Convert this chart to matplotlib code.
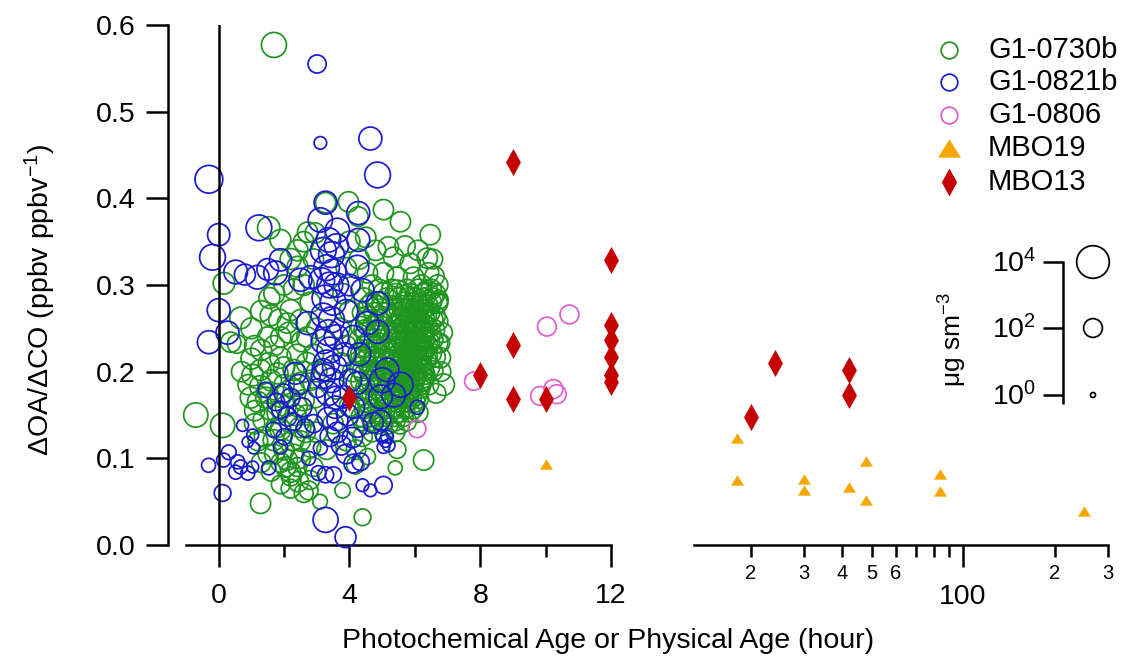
import numpy as np
import matplotlib
matplotlib.use("Agg")
import matplotlib.pyplot as plt
from matplotlib.ticker import FixedLocator, FuncFormatter, FormatStrFormatter

# ---------------------------------------------------------------- data
# G1-0730b : scattered circles (age h, dOA/dCO, log10 OA)
g_age = [1.69, 3.27, 3.97, 5.04, 5.56, 6.47, 4.27, 1.53, 1.89, 2.41,
         2.72, 0.16, 0.67, 1.59, 2.20, 2.10, 0.37, 0.55, -0.70, 0.12,
         1.28, 4.40, 3.79, 6.27, 6.88, 5.40, 6.78, 6.78, 6.72, 6.73,
         2.75, 2.44, 2.20, 2.05, 4.55, 4.18, 5.46, 2.60, 3.10,
         5.19, 6.38, 5.86, 5.35, 5.04, 4.55, 5.46, 5.96, 6.42, 2.41,
         5.04, 5.46, 6.38, 6.69, 5.96, 4.80, 4.50, 4.00, 4.30, 4.70,
         5.70, 6.10, 6.20, 3.90, 3.80, 2.90, 2.60, 2.80, 2.50, 3.00,
         2.00, 1.30, 1.90, 6.55, 6.60,
         2.70, 2.90, 3.00, 2.80, 3.70, 3.90, 4.00, 3.75, 4.10, 3.60,
         4.00, 3.50, 3.90, 4.20, 4.40, 3.30, 3.00, 2.70, 2.50, 2.30,
         1.04, 1.28, 0.98, 1.53, 1.89, 1.80, 2.29, 2.50, 2.60, 1.80,
         1.68, 1.89, 2.29, 2.50, 2.81, 2.10, 2.20, 1.28, 1.89, 1.37,
         1.59, 2.20, 1.10, 1.50, 2.00, 2.40, 1.20, 1.50, 1.90, 0.70,
         1.50, 1.70, 1.10, 2.40, 2.90, 2.40,
         1.00, 1.30, 1.60, 2.00, 2.30, 2.60, 0.90, 1.20, 1.45, 1.75,
         2.05, 2.35, 2.65, 1.10, 1.40, 1.70, 2.00, 2.50, 2.80, 1.60,
         1.90, 2.20, 1.30, 1.00, 2.70, 2.95, 2.55, 2.15, 1.85, 1.55,
         2.20, 2.60, 2.95, 2.30, 1.70, 6.80, 6.85, 6.70, 6.65]
g_ratio = [0.577, 0.395, 0.396, 0.387, 0.373, 0.358, 0.379, 0.366, 0.352, 0.340,
           0.361, 0.302, 0.262, 0.265, 0.271, 0.256, 0.234, 0.232, 0.150, 0.138,
           0.048, 0.032, 0.063, 0.098, 0.185, 0.089, 0.216, 0.233, 0.258, 0.283,
           0.063, 0.073, 0.079, 0.090, 0.102, 0.092, 0.110, 0.060, 0.050,
           0.344, 0.331, 0.325, 0.332, 0.314, 0.314, 0.309, 0.309, 0.314, 0.321,
           0.291, 0.294, 0.294, 0.279, 0.279, 0.340, 0.355, 0.350, 0.330, 0.300,
           0.345, 0.340, 0.300, 0.320, 0.290, 0.330, 0.300, 0.280, 0.260, 0.250,
           0.300, 0.270, 0.240, 0.330, 0.310,
           0.240, 0.220, 0.200, 0.190, 0.250, 0.230, 0.270, 0.210, 0.200, 0.180,
           0.160, 0.140, 0.120, 0.110, 0.125, 0.110, 0.130, 0.150, 0.120, 0.105,
           0.196, 0.183, 0.170, 0.210, 0.216, 0.198, 0.202, 0.187, 0.167, 0.152,
           0.121, 0.133, 0.121, 0.136, 0.113, 0.098, 0.084, 0.202, 0.171, 0.144,
           0.156, 0.141, 0.155, 0.175, 0.185, 0.160, 0.120, 0.105, 0.095, 0.200,
           0.240, 0.230, 0.230, 0.220, 0.090, 0.090,
           0.215, 0.225, 0.190, 0.205, 0.180, 0.200, 0.185, 0.165, 0.170, 0.135,
           0.160, 0.150, 0.130, 0.140, 0.125, 0.105, 0.110, 0.100, 0.075, 0.085,
           0.070, 0.065, 0.095, 0.250, 0.210, 0.170, 0.235, 0.245, 0.260, 0.285,
           0.330, 0.350, 0.360, 0.295, 0.290, 0.200, 0.245, 0.300, 0.175]
g_logoa = [2.9, 2.2, 2.2, 2.2, 2.2, 2.2, 2.1, 2.5, 2.3, 2.3,
           2.2, 2.4, 2.4, 2.3, 2.3, 2.2, 2.2, 2.0, 2.8, 2.8,
           2.2, 1.7, 1.5, 2.2, 2.4, 1.3, 2.2, 2.0, 2.0, 2.0,
           2.0, 2.2, 2.0, 2.2, 1.6, 1.8, 1.8, 2.0, 1.4,
           2.2, 2.2, 2.2, 2.2, 2.2, 2.2, 2.2, 2.2, 2.2, 2.3,
           2.2, 2.2, 2.2, 2.2, 2.2, 2.2, 2.2, 2.3, 2.2, 2.2,
           2.2, 2.2, 2.2, 2.2, 2.2, 2.2, 2.3, 2.2, 2.2, 2.2,
           2.2, 2.3, 2.2, 2.1, 2.1,
           2.2, 2.2, 2.2, 2.2, 2.2, 2.2, 2.2, 2.2, 2.2, 2.2,
           2.2, 2.2, 2.1, 2.1, 2.1, 2.1, 2.2, 2.2, 2.2, 2.1,
           2.4, 2.4, 2.3, 2.3, 2.3, 2.3, 2.3, 2.3, 2.3, 2.3,
           2.3, 2.3, 2.3, 2.3, 2.2, 2.2, 2.2, 2.3, 2.3, 2.3,
           2.3, 2.3, 2.2, 2.2, 2.2, 2.2, 2.1, 2.1, 2.1, 2.2,
           2.2, 2.2, 2.2, 2.2, 2.0, 2.0,
           2.3, 2.3, 2.3, 2.3, 2.3, 2.3, 2.2, 2.3, 2.3, 2.2,
           2.3, 2.3, 2.2, 2.2, 2.2, 2.1, 2.2, 2.2, 2.0, 2.1,
           2.0, 2.0, 2.1, 2.3, 2.3, 2.2, 2.3, 2.3, 2.3, 2.3,
           2.3, 2.2, 2.2, 2.3, 2.3, 2.1, 2.1, 2.2, 2.1]

# G1-0730b : dense core, read row by row (ratio of the row, ages along it, log10 OA)
g_row_ratio = [0.295, 0.285, 0.276, 0.268, 0.260, 0.252, 0.245, 0.237, 0.229, 0.221,
               0.213, 0.205, 0.197, 0.189, 0.181, 0.173, 0.165, 0.157, 0.148, 0.139,
               0.130, 0.272, 0.256, 0.241, 0.225, 0.209, 0.193, 0.177,
               0.290, 0.280, 0.264, 0.248, 0.233, 0.217, 0.201, 0.185, 0.169, 0.153,
               0.143]
g_row_ages = [[4.9, 5.3, 5.75, 6.1, 6.5],
              [4.45, 5.15, 5.5, 5.8, 6.05, 6.3, 6.55],
              [4.6, 4.85, 5.3, 5.6, 5.9, 6.15, 6.4],
              [4.4, 4.75, 5.05, 5.45, 5.7, 5.95, 6.2, 6.45],
              [4.55, 4.9, 5.25, 5.55, 5.8, 6.05, 6.3, 6.55],
              [4.35, 4.7, 5.0, 5.35, 5.62, 5.88, 6.12, 6.38],
              [4.5, 4.85, 5.15, 5.48, 5.72, 5.96, 6.22, 6.48],
              [4.3, 4.65, 4.95, 5.3, 5.58, 5.82, 6.05, 6.3, 6.55],
              [4.45, 4.8, 5.1, 5.42, 5.66, 5.9, 6.14, 6.4],
              [4.35, 4.6, 4.9, 5.22, 5.52, 5.76, 6.0, 6.25, 6.5],
              [4.5, 4.75, 5.05, 5.35, 5.62, 5.85, 6.1, 6.35],
              [4.3, 4.62, 4.92, 5.2, 5.48, 5.72, 5.95, 6.2, 6.45],
              [4.45, 4.78, 5.08, 5.36, 5.6, 5.84, 6.06, 6.3],
              [4.35, 4.65, 4.95, 5.25, 5.5, 5.74, 5.98, 6.22],
              [4.5, 4.8, 5.12, 5.4, 5.65, 5.9, 6.15],
              [4.4, 4.7, 5.0, 5.3, 5.56, 5.82, 6.05],
              [4.55, 4.88, 5.2, 5.48, 5.75, 6.0],
              [4.45, 4.75, 5.1, 5.4, 5.7, 5.95],
              [4.35, 4.65, 5.0, 5.35, 5.65],
              [4.5, 4.85, 5.2, 5.55],
              [4.7, 5.05, 5.4],
              [5.68, 5.98, 6.28],
              [5.7, 6.0, 6.25],
              [5.62, 5.95, 6.2],
              [5.78, 6.05, 6.3],
              [5.55, 5.9, 6.2],
              [5.65, 6.0, 6.3],
              [5.5, 5.8],
              [5.4, 5.85, 6.25, 6.62],
              [4.7, 5.0, 5.65, 5.95, 6.22, 6.5, 6.7],
              [4.55, 4.95, 5.32, 5.6, 5.85, 6.1, 6.35, 6.62],
              [4.45, 4.8, 5.2, 5.5, 5.78, 6.02, 6.28, 6.6],
              [4.55, 4.9, 5.25, 5.5, 5.74, 5.98, 6.2, 6.45, 6.7],
              [4.45, 4.75, 5.05, 5.38, 5.64, 5.88, 6.12, 6.38, 6.62],
              [4.4, 4.7, 5.0, 5.32, 5.58, 5.8, 6.02, 6.26, 6.55],
              [4.6, 4.9, 5.18, 5.45, 5.7, 5.94, 6.18, 6.42],
              [4.5, 4.8, 5.1, 5.38, 5.64, 5.9, 6.12],
              [4.6, 4.92, 5.25, 5.55, 5.85, 6.1],
              [4.4, 4.72, 5.05, 5.4, 5.75]]
g_row_logoa = [2.2, 2.2, 2.2, 2.2, 2.2, 2.2, 2.2, 2.2, 2.2, 2.2,
               2.2, 2.2, 2.2, 2.2, 2.2, 2.2, 2.2, 2.1, 2.1, 2.0,
               2.0, 2.1, 2.1, 2.1, 2.1, 2.1, 2.1, 2.1,
               2.2, 2.2, 2.2, 2.2, 2.2, 2.2, 2.2, 2.2, 2.1, 2.1,
               2.1]

# G1-0821b
b_age = [-0.30, 4.86, 3.01, 3.11, 4.64, 0.00, -0.19, 1.23, 0.52, 1.18,
         1.74, 1.89, 0.00, 0.27, -0.30, 1.50, 0.80,
         3.27, 3.11, 4.27, 3.63, 3.36, 4.27, 3.20, 3.45, 3.60, 3.30,
         3.50, 3.15, 3.40, 3.60, 3.25, 3.50, 3.20, 3.45, 3.35, 3.60,
         3.20, 3.40, 3.30, 3.55, 3.20, 3.45, 3.35, 3.60, 2.81, 2.50,
         4.24, 4.40, 4.86, 4.55, 2.72, 4.12, 4.86, 3.90, 4.00, 3.85, 4.30,
         0.73, 1.04, 0.89, 1.07, 0.31, 0.15, -0.31, 0.58, 0.67, 0.52,
         0.89, 1.04, 1.53, 0.12, 1.44, 1.68, 1.89, 1.89, 2.10, 2.35,
         1.98, 2.56, 2.29, 3.11, 3.05, 3.27, 3.51, 3.02, 3.33, 3.63,
         3.94, 4.24, 4.09, 4.12, 4.34, 3.27, 3.88, 4.40, 4.64, 5.04,
         5.04, 5.10, 5.20, 5.15, 5.00, 6.08, 4.73, 4.95, 5.00, 5.56,
         5.35, 4.95, 5.15, 3.20, 4.03, 4.24, 3.82, 3.57, 4.12, 3.63,
         3.75, 3.90, 3.40, 2.90, 2.75,
         2.20, 2.45, 1.75, 2.65, 2.00]
b_ratio = [0.422, 0.427, 0.555, 0.464, 0.469, 0.358, 0.332, 0.366, 0.315, 0.309,
           0.314, 0.329, 0.271, 0.245, 0.234, 0.318, 0.312,
           0.395, 0.375, 0.383, 0.363, 0.352, 0.352, 0.340, 0.335, 0.345, 0.320,
           0.315, 0.305, 0.300, 0.300, 0.285, 0.280, 0.265, 0.260, 0.245, 0.240,
           0.235, 0.225, 0.210, 0.205, 0.195, 0.190, 0.175, 0.170, 0.309, 0.306,
           0.321, 0.294, 0.279, 0.256, 0.256, 0.240, 0.246, 0.270, 0.300, 0.220, 0.220,
           0.138, 0.127, 0.119, 0.112, 0.107, 0.098, 0.092, 0.096, 0.090, 0.084,
           0.083, 0.090, 0.089, 0.060, 0.179, 0.133, 0.113, 0.156, 0.148, 0.198,
           0.175, 0.159, 0.142, 0.112, 0.083, 0.081, 0.081, 0.181, 0.147, 0.130,
           0.150, 0.136, 0.124, 0.094, 0.096, 0.029, 0.009, 0.069, 0.063, 0.069,
           0.113, 0.120, 0.115, 0.125, 0.125, 0.159, 0.141, 0.144, 0.190, 0.185,
           0.173, 0.171, 0.202, 0.202, 0.190, 0.187, 0.171, 0.159, 0.159, 0.144,
           0.115, 0.105, 0.125, 0.140, 0.100,
           0.170, 0.185, 0.165, 0.135, 0.125]
b_logoa = [3.3, 3.0, 1.9, 1.1, 2.6, 2.5, 3.0, 3.0, 2.7, 2.7,
           2.7, 2.5, 2.6, 2.6, 2.6, 2.4, 2.3,
           2.6, 2.8, 2.6, 2.8, 2.8, 2.6, 3.0, 3.0, 2.8, 3.0,
           3.0, 3.0, 3.0, 2.8, 3.0, 3.0, 2.8, 3.0, 3.0, 2.8,
           2.8, 3.0, 3.0, 2.8, 2.8, 2.8, 2.8, 2.6, 2.6, 2.6,
           2.6, 2.6, 2.6, 2.6, 2.6, 2.6, 2.6, 2.6, 2.4, 2.6, 2.6,
           1.0, 1.0, 0.9, 1.0, 1.4, 1.3, 1.3, 1.3, 1.3, 1.3,
           1.3, 1.0, 1.3, 1.7, 1.5, 1.5, 1.3, 1.8, 2.0, 2.4,
           2.0, 2.0, 1.8, 1.3, 1.4, 1.6, 1.6, 2.0, 2.2, 2.2,
           2.4, 2.2, 2.2, 2.0, 1.8, 2.9, 2.3, 1.1, 1.1, 1.8,
           1.1, 1.1, 1.1, 1.1, 1.1, 1.3, 2.2, 2.2, 2.9, 2.9,
           2.7, 2.7, 2.7, 2.5, 2.5, 2.5, 2.5, 2.5, 2.5, 2.3,
           2.1, 2.1, 2.1, 1.9, 1.3,
           2.0, 2.2, 1.8, 1.9, 1.6]

# G1-0806
p_age = [7.80, 10.04, 10.73, 9.83, 10.24, 10.34, 6.07]
p_ratio = [0.189, 0.252, 0.266, 0.172, 0.180, 0.174, 0.134]
p_logoa = [1.9, 2.0, 2.0, 2.0, 2.0, 2.0, 1.8]

# MBO19 (physical age)
m19_age = [10, 18, 18, 30, 30, 42, 48, 48, 84, 84, 250]
m19_ratio = [0.093, 0.123, 0.075, 0.076, 0.063, 0.067, 0.097, 0.052, 0.082, 0.062, 0.039]

# MBO13 (physical age)
m13_age = [4, 8, 9, 9, 9, 10, 12, 12, 12, 12, 12, 12, 20, 24, 42, 42]
m13_ratio = [0.170, 0.196, 0.442, 0.231, 0.168, 0.168, 0.329, 0.254, 0.237, 0.217,
             0.196, 0.188, 0.148, 0.210, 0.202, 0.173]

left_xticks = [0, 4, 8, 12]
left_xminor = [2, 6, 10]
right_xmajor = [100]
right_xminor = [20, 30, 40, 50, 60, 70, 80, 90, 200, 300]
right_minor_labels = ['2', '3', '4', '5', '6', '', '', '', '2', '3']
yticks = [0.0, 0.1, 0.2, 0.3, 0.4, 0.5, 0.6]
legend_names = ['G1-0730b', 'G1-0821b', 'G1-0806', 'MBO19', 'MBO13']
size_legend_logoa = [4, 2, 0]

# ---------------------------------------------------------------- style
W, H = 1125, 659
plt.rcParams['font.family'] = ['Liberation Sans', 'DejaVu Sans']
plt.rcParams['mathtext.fontset'] = 'custom'
plt.rcParams['mathtext.rm'] = 'Liberation Sans'
plt.rcParams['mathtext.it'] = 'Liberation Sans:italic'
plt.rcParams['mathtext.bf'] = 'Liberation Sans:bold'

C_G = '#1f951f'
C_B = '#1a1ad2'
C_P = '#e35ccf'
C_O = '#f7a600'
C_R = '#c40000'
LW = 1.8
FS = 20.5
CLW = 1.25

DIAMOND = [(0, 1), (0.55, 0), (0, -1), (-0.55, 0), (0, 1)]
TRIANGLE = [(0, 0.8), (1, -0.8), (-1, -0.8), (0, 0.8)]

fig = plt.figure(figsize=(W / 100, H / 100), dpi=100)


def box(x0, x1, y0, y1):
    return [x0 / W, 1 - y1 / H, (x1 - x0) / W, (y1 - y0) / H]


def area(L):
    d_px = 5 + 6.9 * np.asarray(L, dtype=float)
    return (d_px * 0.72) ** 2


axL = fig.add_axes(box(186, 611, 25, 545))
axR = fig.add_axes(box(694, 1108, 25, 545))

# build green arrays
ga = list(g_age)
gr = list(g_ratio)
gl = list(g_logoa)
for yv, xs, lv in zip(g_row_ratio, g_row_ages, g_row_logoa):
    ga += xs
    gr += [yv] * len(xs)
    gl += [lv] * len(xs)

circ = dict(facecolors='none', linewidths=CLW, clip_on=False, marker='o')
axL.scatter(ga, gr, s=area(gl), edgecolors=C_G, zorder=2, **circ)
axL.scatter(b_age, b_ratio, s=area(b_logoa), edgecolors=C_B, zorder=3, **circ)
axL.scatter(p_age, p_ratio, s=area(p_logoa), edgecolors=C_P, zorder=4, **circ)

m19_age = np.array(m19_age, float)
m19_ratio = np.array(m19_ratio, float)
m13_age = np.array(m13_age, float)
m13_ratio = np.array(m13_ratio, float)
for ax, sel19, sel13 in ((axL, m19_age <= 12, m13_age <= 12),
                         (axR, m19_age > 12, m13_age > 12)):
    ax.scatter(m19_age[sel19], m19_ratio[sel19], s=9.3 ** 2, marker=TRIANGLE,
               color=C_O, linewidths=0, zorder=5, clip_on=False)
    ax.scatter(m13_age[sel13], m13_ratio[sel13], s=19.5 ** 2, marker=DIAMOND,
               color=C_R, linewidths=0, zorder=6, clip_on=False)

axL.axvline(0, color='k', lw=LW, zorder=7)

# left axes
axL.set_xlim(-1, 12)
axL.set_ylim(0, 0.6)
for s in ('top', 'right'):
    axL.spines[s].set_visible(False)
axL.spines['left'].set_position(('outward', 13))
for s in ('left', 'bottom'):
    axL.spines[s].set_linewidth(LW)
axL.set_xticks(left_xticks)
axL.set_xticks(left_xminor, minor=True)
axL.set_xticklabels([str(v) for v in left_xticks])
axL.set_yticks(yticks)
axL.yaxis.set_major_formatter(FormatStrFormatter('%.1f'))
axL.tick_params(axis='x', which='major', direction='out', length=15.5, width=LW,
                pad=12, labelsize=FS)
axL.tick_params(axis='x', which='minor', direction='out', length=8.5, width=LW)
axL.tick_params(axis='y', which='major', direction='out', length=15.5, width=LW,
                pad=8, labelsize=FS)
axL.patch.set_visible(False)

# right axes (log)
axR.set_xscale('log')
axR.set_xlim(13, 300)
axR.set_ylim(0, 0.6)
for s in ('top', 'right', 'left'):
    axR.spines[s].set_visible(False)
axR.spines['bottom'].set_linewidth(LW)
axR.set_yticks([])
axR.xaxis.set_major_locator(FixedLocator(right_xmajor))
axR.xaxis.set_minor_locator(FixedLocator(right_xminor))
lab_map = dict(zip(right_xminor, right_minor_labels))
axR.xaxis.set_major_formatter(FuncFormatter(lambda v, p: '%d' % round(v)))
axR.xaxis.set_minor_formatter(FuncFormatter(lambda v, p: lab_map.get(int(round(v)), '')))
axR.tick_params(axis='x', which='major', direction='out', length=16, width=LW,
                pad=12, labelsize=FS)
axR.tick_params(axis='x', which='minor', direction='out', length=8.5, width=LW,
                pad=5, labelsize=14.5)
axR.patch.set_visible(False)

# axis titles
fig.text(342 / W, 1 - 641 / H, 'Photochemical Age or Physical Age (hour)',
         ha='left', va='center', fontsize=FS)
fig.text(40 / W, 1 - 300 / H, 'ΔOA/ΔCO (ppbv ppbv$^{-1}$)', rotation=90,
         ha='center', va='center', fontsize=FS)

# ---------------------------------------------------------------- legends (pixel overlay)
lax = fig.add_axes([0, 0, 1, 1], zorder=10)
lax.set_xlim(0, W)
lax.set_ylim(H, 0)
lax.axis('off')

leg_y = [50, 82, 115, 148, 182]
mx, tx = 949, 988
lax.plot([mx], [leg_y[0]], 'o', ms=12, mfc='none', mec=C_G, mew=CLW)
lax.plot([mx], [leg_y[1]], 'o', ms=12, mfc='none', mec=C_B, mew=CLW)
lax.plot([mx], [leg_y[2]], 'o', ms=12, mfc='none', mec=C_P, mew=CLW)
lax.plot([mx], [leg_y[3]], marker=TRIANGLE, ms=16.5, color=C_O, mew=0, ls='none')
lax.plot([mx], [leg_y[4]], marker=DIAMOND, ms=20, color=C_R, mew=0, ls='none')
for yv, name in zip(leg_y, legend_names):
    lax.text(tx, yv, name, ha='left', va='center', fontsize=21)

# size legend
sy = [262, 328, 395]
lax.plot([1063, 1063], [261, 404], color='k', lw=LW, solid_capstyle='butt')
for yv, L in zip(sy, size_legend_logoa):
    lax.plot([1043, 1063], [yv, yv], color='k', lw=LW, solid_capstyle='butt')
    lax.text(1036, yv + 2, '10$^{%d}$' % L, ha='right', va='center', fontsize=FS)
    lax.scatter([1093], [yv], s=area([L]), facecolors='none', edgecolors='k',
                linewidths=CLW)
lax.text(953, 340, 'μg sm$^{-3}$', rotation=90, ha='center', va='center', fontsize=19)

fig.savefig('out.png', dpi=100)
